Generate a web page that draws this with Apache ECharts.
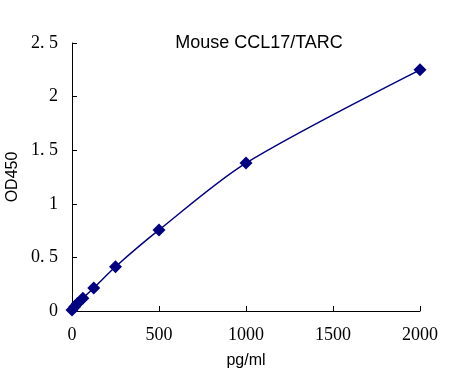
<!DOCTYPE html>
<html><head><meta charset="utf-8">
<script src="https://cdn.jsdelivr.net/npm/echarts@6/dist/echarts.min.js"></script>
<style>html,body{margin:0;padding:0;background:#fff}#c{width:465px;height:380px}</style>
</head><body><div id="c"></div>
<script>
const concentrations = [0, 15.6, 31.25, 62.5, 125, 250, 500, 1000, 2000];
const od450 = [0.01, 0.04, 0.07, 0.12, 0.215, 0.413, 0.756, 1.38, 2.25];
const xTicks = [0, 500, 1000, 1500, 2000];
const yTicks = [0, 0.5, 1, 1.5, 2, 2.5];
const titleText = 'Mouse CCL17/TARC';
const xName = 'pg/ml';
const yName = 'OD450';

const chart = echarts.init(document.getElementById('c'));
chart.setOption({
  animation: false,
  backgroundColor: '#fff',
  title: {text: titleText, left: 254, top: 29, textAlign: 'center',
    textStyle: {fontFamily: 'Liberation Sans', fontSize: 18, fontWeight: 'normal', color: '#000'}},
  grid: {left: 72, right: 45, top: 43, bottom: 69, containLabel: false, outerBoundsMode: 'none'},
  xAxis: {type: 'value', min: xTicks[0], max: xTicks[xTicks.length-1], interval: 500,
    name: xName, nameLocation: 'middle', nameGap: 42,
    nameTextStyle: {fontFamily: 'Liberation Sans', fontSize: 16, color: '#000'},
    axisLine: {show: true, lineStyle: {color: '#000', width: 1}},
    axisTick: {show: true, inside: true, length: 5, lineStyle: {color: '#000'}},
    axisLabel: {fontFamily: 'Liberation Serif', fontSize: 18, color: '#000', margin: 15,
      formatter: v => String(v)},
    splitLine: {show: false}},
  yAxis: {type: 'value', min: yTicks[0], max: yTicks[yTicks.length-1], interval: 0.5,
    name: yName, nameLocation: 'middle', nameGap: 43,
    nameTextStyle: {fontFamily: 'Liberation Sans', fontSize: 16, color: '#000'},
    axisLine: {show: true, lineStyle: {color: '#000', width: 1}},
    axisTick: {show: true, inside: true, length: 5, lineStyle: {color: '#000'}},
    axisLabel: {fontFamily: 'Liberation Serif', fontSize: 18, color: '#000', margin: 14,
      formatter: v => String(v).replace('.', '. ')},
    splitLine: {show: false}},
  series: [{type: 'line', smooth: 0.3,
    data: concentrations.map((c, i) => [c, od450[i]]),
    symbol: 'diamond', symbolSize: 13,
    lineStyle: {color: '#000080', width: 1.5},
    itemStyle: {color: '#000080'}}]
});
</script></body></html>
